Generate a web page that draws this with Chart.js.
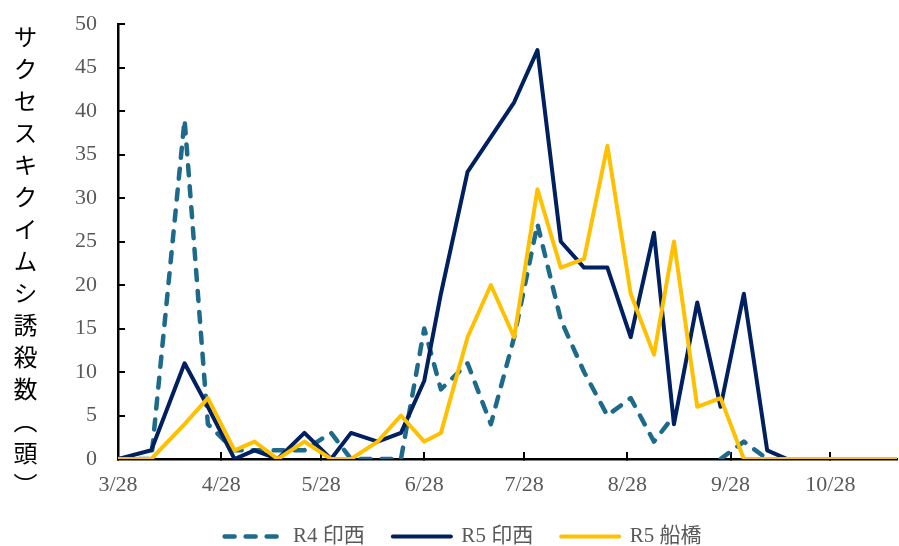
<!DOCTYPE html>
<html>
<head>
<meta charset="utf-8">
<script src="https://cdn.jsdelivr.net/npm/chart.js@4.4.1/dist/chart.umd.min.js"></script>
<style>
html,body{margin:0;padding:0;background:#fff;}
#wrap{position:relative;width:899px;height:546px;overflow:hidden;}
#c{position:absolute;left:0;top:0;}
#ytitle{position:absolute;left:13px;top:25px;writing-mode:vertical-rl;font-family:"Noto Sans CJK JP",sans-serif;font-size:24px;line-height:24px;letter-spacing:8px;color:#000;white-space:nowrap;}
</style>
</head>
<body>
<div id="wrap">
<canvas id="c" width="899" height="546" style="width:899px;height:546px"></canvas>
<div id="ytitle">サクセスキクイムシ誘殺数（頭）</div>
</div>
<script>
// ---- data ----
const dates = ["3/28","4/7","4/17","4/24","5/2","5/8","5/15","5/23","5/31","6/6","6/14","6/21",
  "6/28","7/3","7/11","7/18","7/25","8/1","8/8","8/15","8/22","8/29","9/5","9/11","9/18","9/25",
  "10/2","10/9","10/15","10/22","10/29","11/5","11/12","11/17"];
const r4Inzai = [0,0,39,4,1,1,1,1,3,0,0,0,15,8,11,4,14,27,16,10,5,7,2,5,null,0,2,0,
  null,null,null,null,null,null];
const r5Inzai = [0,1,11,6,0,1,0,3,0,3,2,3,9,19,33,37,41,47,25,22,22,14,26,4,18,6,19,1,0,0,
  null,null,null,null];
const r5Funabashi = [0,0,4,7,1,2,0,2,0,0,2,5,2,3,14,20,14,31,22,23,36,19,12,25,6,7,0,0,0,0,0,0,0,0];
const seriesLabels = ["R4 印西","R5 印西","R5 船橋"];
const tickLabels = ["3/28","4/28","5/28","6/28","7/28","8/28","9/28","10/28"];
const yTicks = {min:0, max:50, step:5};

// ---- helpers ----
function dayOf(s){
  const p = s.split('/').map(Number);
  return Math.round((Date.UTC(2023,p[0]-1,p[1]) - Date.UTC(2023,2,28)) / 86400000);
}
const xs = dates.map(dayOf);
const toPts = arr => arr.map((v,i) => ({x: xs[i], y: v}));
const labelMap = {};
tickLabels.forEach(t => { labelMap[dayOf(t)] = t; });

const FONT = '"Liberation Serif","Noto Sans CJK JP",serif';
const GRAY = '#595959';

const common = {pointRadius:0, pointHoverRadius:0, tension:0, fill:false,
  borderJoinStyle:'round', borderCapStyle:'round'};

new Chart(document.getElementById('c'), {
  type: 'line',
  data: {
    datasets: [
      Object.assign({label: seriesLabels[0], data: toPts(r4Inzai), borderColor:'#1D6A8A',
        backgroundColor:'#1D6A8A', borderWidth:4.5, borderDash:[10,11], order:3}, common),
      Object.assign({label: seriesLabels[1], data: toPts(r5Inzai), borderColor:'#002060',
        backgroundColor:'#002060', borderWidth:4, order:2}, common),
      Object.assign({label: seriesLabels[2], data: toPts(r5Funabashi), borderColor:'#FFC000',
        backgroundColor:'#FFC000', borderWidth:4, order:1}, common)
    ]
  },
  options: {
    responsive: false,
    animation: false,
    events: [],
    layout: {padding: {top: 24, right: 2, left: 29, bottom: -11}},
    plugins: {
      tooltip: {enabled: false},
      legend: {
        position: 'bottom',
        labels: {
          usePointStyle: true,
          pointStyle: 'line',
          pointStyleWidth: 58,
          padding: 28,
          color: GRAY,
          font: {size: 21, family: FONT},
          sort: (a, b) => a.datasetIndex - b.datasetIndex,
          generateLabels: chart => {
            const items = Chart.defaults.plugins.legend.labels.generateLabels(chart);
            items.forEach(it => {
              const ds = chart.data.datasets[it.datasetIndex];
              it.lineDash = ds.borderDash || [];
              it.lineCap = 'round';
              it.lineWidth = ds.borderWidth;
              it.strokeStyle = ds.borderColor;
              it.fontColor = GRAY;
            });
            return items;
          }
        }
      }
    },
    scales: {
      x: {
        type: 'linear',
        min: 0,
        max: xs[xs.length - 1],
        afterBuildTicks: s => { s.ticks = tickLabels.map(t => ({value: dayOf(t)})); },
        ticks: {
          autoSkip: false, maxRotation: 0, minRotation: 0,
          callback: v => (labelMap[v] !== undefined ? labelMap[v] : ''),
          color: GRAY, padding: 20,
          font: {size: 22, family: FONT}
        },
        grid: {drawOnChartArea: false, tickLength: -7, color: '#000', lineWidth: 2},
        border: {display: true, color: '#000', width: 2.5},
        afterFit: s => { s.height = 39; s.paddingLeft = 0; s.paddingRight = 0; }
      },
      y: {
        min: yTicks.min, max: yTicks.max,
        ticks: {stepSize: yTicks.step, color: GRAY, padding: 28, font: {size: 22, family: FONT}},
        grid: {drawOnChartArea: false, tickLength: -7, color: '#000', lineWidth: 2},
        border: {display: true, color: '#000', width: 2.5},
        afterFit: s => { s.width = 89; s.paddingTop = 0; s.paddingBottom = 0; }
      }
    }
  }
});
</script>
</body>
</html>
